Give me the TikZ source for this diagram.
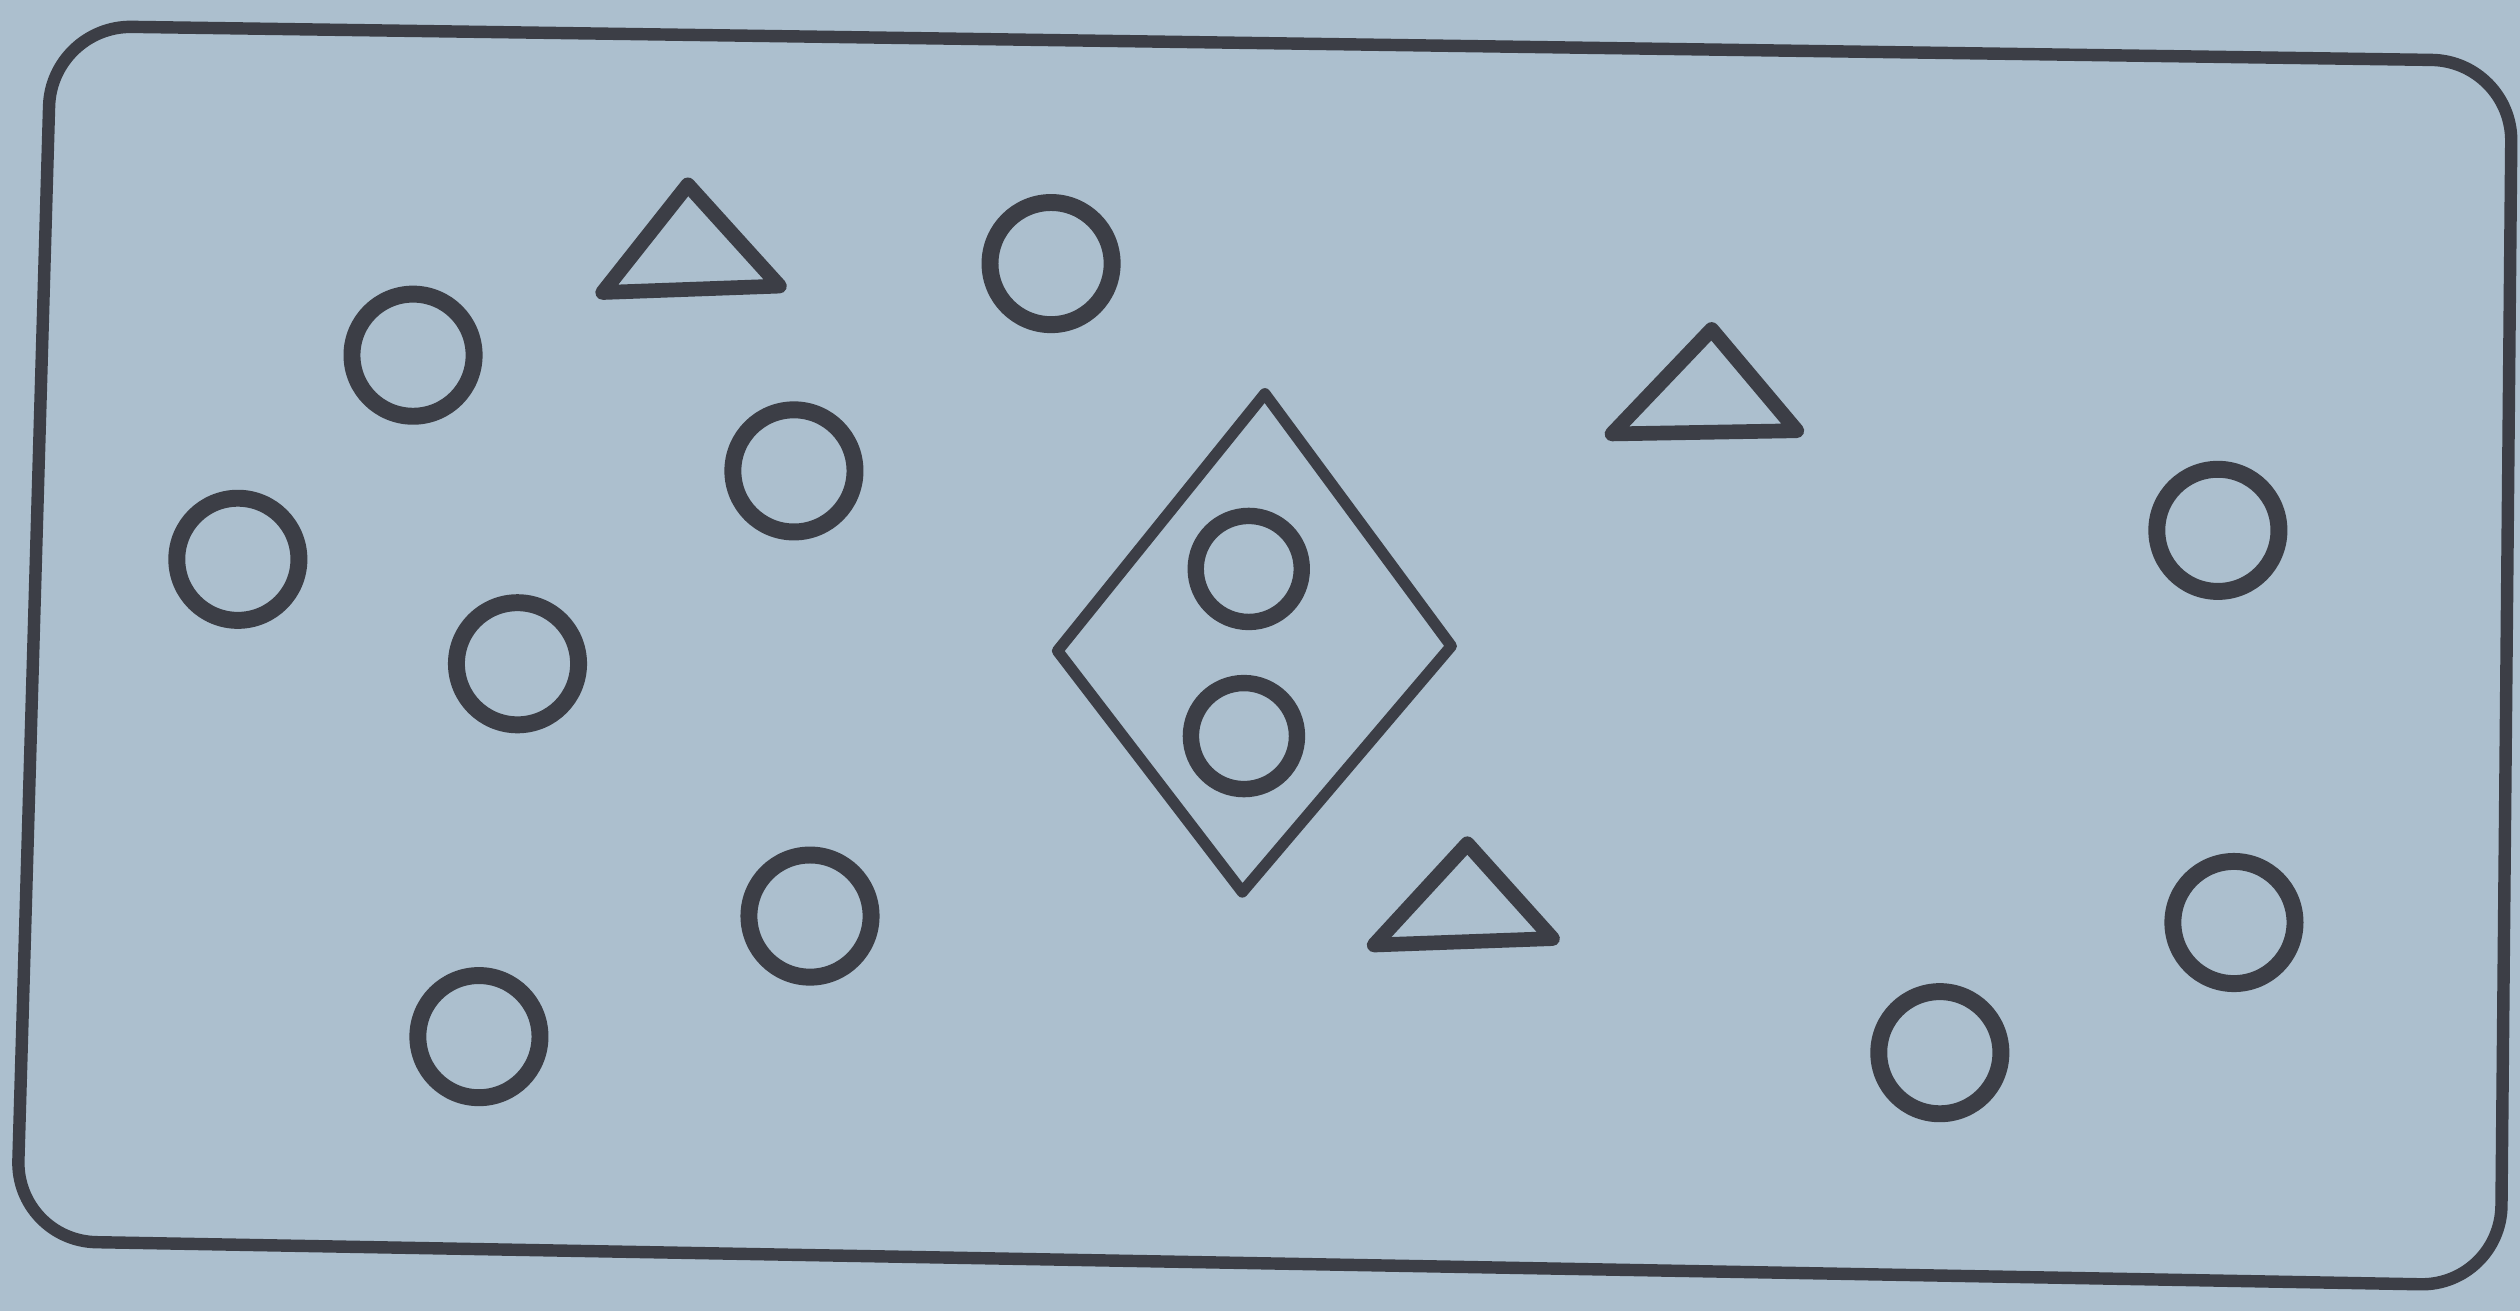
\documentclass[tikz,border=0pt]{standalone}
\usepackage{tikz}
\definecolor{paper}{RGB}{172,191,206}
\definecolor{ink}{RGB}{60,62,70}
\begin{document}
\begin{tikzpicture}[line join=round, ink]
  \useasboundingbox (0,0) rectangle (15.68,8.16);
  \fill[paper] (0,0) rectangle (15.68,8.16);
  % outer frame
  \draw[line width=2.2pt, rounded corners=0.5cm] (0.32,8.00) -- (15.63,7.78) -- (15.56,0.16) -- (0.10,0.44) -- cycle;
  % loose circles
  \foreach \x/\y in {2.57/5.95, 6.54/6.52, 4.94/5.23, 1.48/4.68, 3.22/4.03,
                     5.04/2.46, 2.98/1.71, 13.80/4.86, 13.90/2.42, 12.07/1.61}
    \draw[line width=3pt] (\x,\y) circle (0.38);
  % triangles
  \draw[line width=2.6pt] (3.75,6.34) -- (4.85,6.38) -- (4.28,7.01) -- cycle;
  \draw[line width=2.6pt] (10.03,5.46) -- (11.18,5.48) -- (10.65,6.11) -- cycle;
  \draw[line width=2.6pt] (8.55,2.28) -- (9.66,2.32) -- (9.13,2.91) -- cycle;
  % diamond with two circles
  \draw[line width=2pt] (7.87,5.71) -- (9.03,4.14) -- (7.73,2.61) -- (6.58,4.11) -- cycle;
  \draw[line width=2.9pt] (7.77,4.62) circle (0.33);
  \draw[line width=2.9pt] (7.74,3.58) circle (0.33);
\end{tikzpicture}
\end{document}
